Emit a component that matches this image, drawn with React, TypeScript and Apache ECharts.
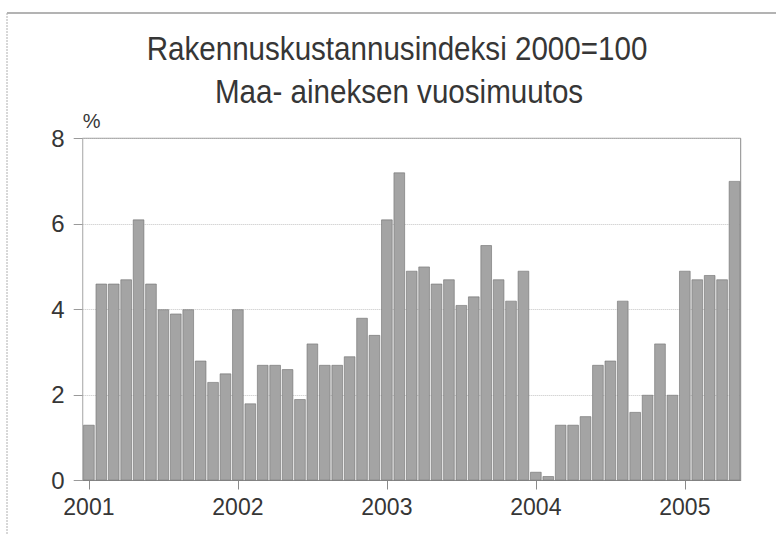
import React, { useEffect, useRef } from "react";
import * as echarts from "echarts";

const titleLines = ["Rakennuskustannusindeksi 2000=100", "Maa- aineksen vuosimuutos"];
const unitLabel = "%";
const years = ["2001", "2002", "2003", "2004", "2005"];
const monthsPerYear = [12, 12, 12, 12, 5];
const values2001 = [1.3, 4.6, 4.6, 4.7, 6.1, 4.6, 4.0, 3.9, 4.0, 2.8, 2.3, 2.5];
const values2002 = [4.0, 1.8, 2.7, 2.7, 2.6, 1.9, 3.2, 2.7, 2.7, 2.9, 3.8, 3.4];
const values2003 = [6.1, 7.2, 4.9, 5.0, 4.6, 4.7, 4.1, 4.3, 5.5, 4.7, 4.2, 4.9];
const values2004 = [0.2, 0.1, 1.3, 1.3, 1.5, 2.7, 2.8, 4.2, 1.6, 2.0, 3.2, 2.0];
const values2005 = [4.9, 4.7, 4.8, 4.7, 7.0];
const yTicks = [0, 2, 4, 6, 8];

const FONT = "'Liberation Sans Narrow', 'Arial Narrow', 'Liberation Sans', Arial, sans-serif";

export default function App() {
  const ref = useRef<HTMLDivElement>(null);
  useEffect(() => {
    if (!ref.current) return;
    const chart = echarts.init(ref.current, undefined, { renderer: "svg" });
    const categories: string[] = [];
    years.forEach((y, i) => {
      for (let m = 1; m <= monthsPerYear[i]; m++) categories.push(`${y}-${m < 10 ? "0" + m : m}`);
    });
    const values = [...values2001, ...values2002, ...values2003, ...values2004, ...values2005];
    const isYearStart = (idx: number) => categories[idx] !== undefined && categories[idx].endsWith("-01");
    chart.setOption({
      animation: false,
      backgroundColor: "#ffffff",
      graphic: [
        { type: "line", shape: { x1: 7, y1: 13, x2: 776, y2: 13 }, style: { stroke: "#9a9a9a", lineWidth: 1.5 } },
        { type: "line", shape: { x1: 7, y1: 13, x2: 7, y2: 535 }, style: { stroke: "#b0b0b0", lineWidth: 1, lineDash: [2, 1] } },
        {
          type: "text",
          x: 397,
          y: 48,
          scaleX: 0.87,
          style: {
            text: titleLines[0],
            fontFamily: FONT,
            fontSize: 34,
            fill: "#363636",
            textAlign: "center",
            textVerticalAlign: "middle",
          },
        },
        {
          type: "text",
          x: 399,
          y: 91,
          scaleX: 0.87,
          style: {
            text: titleLines[1],
            fontFamily: FONT,
            fontSize: 34,
            fill: "#363636",
            textAlign: "center",
            textVerticalAlign: "middle",
          },
        },
      ],
      grid: {
        left: 82.7,
        right: 35.3,
        top: 138.3,
        bottom: 54.5,
        show: true,
        borderColor: "#8a8a8a",
        borderWidth: 1,
      },
      xAxis: {
        type: "category",
        data: categories,
        boundaryGap: true,
        axisLine: { show: true, lineStyle: { color: "#8a8a8a", width: 1 } },
        axisTick: {
          show: true,
          alignWithLabel: true,
          interval: (idx: number) => isYearStart(idx),
          length: 9,
          lineStyle: { color: "#8a8a8a" },
        },
        axisLabel: {
          interval: (idx: number) => isYearStart(idx),
          formatter: (v: string) => v.slice(0, 4),
          fontFamily: FONT,
          fontSize: 23,
          color: "#363636",
          margin: 15,
        },
        splitLine: { show: false },
      },
      yAxis: {
        type: "value",
        min: yTicks[0],
        max: yTicks[yTicks.length - 1],
        interval: 2,
        name: unitLabel,
        nameLocation: "end",
        nameGap: 7,
        nameTextStyle: {
          fontFamily: FONT,
          fontSize: 20,
          color: "#363636",
          align: "left",
          verticalAlign: "bottom",
        },
        axisLine: { show: true, lineStyle: { color: "#bdbdbd", type: "dotted" } },
        axisTick: { show: true, inside: false, length: 9, lineStyle: { color: "#9a9a9a" } },
        axisLabel: {
          fontFamily: FONT,
          fontSize: 24,
          color: "#363636",
          margin: 18,
        },
        splitLine: { show: true, lineStyle: { color: "#c4c4c4", type: "dotted", width: 1 } },
      },
      series: [
        {
          type: "bar",
          data: values,
          barCategoryGap: "9%",
          itemStyle: {
            color: "#a4a4a4",
            borderColor: "#6f6f6f",
            borderWidth: 0.6,
          },
        },
      ],
    });
    return () => chart.dispose();
  }, []);
  return (
    <div
      ref={ref}
      style={{ position: "absolute", left: 0, top: 0, width: 776, height: 535 }}
    />
  );
}
